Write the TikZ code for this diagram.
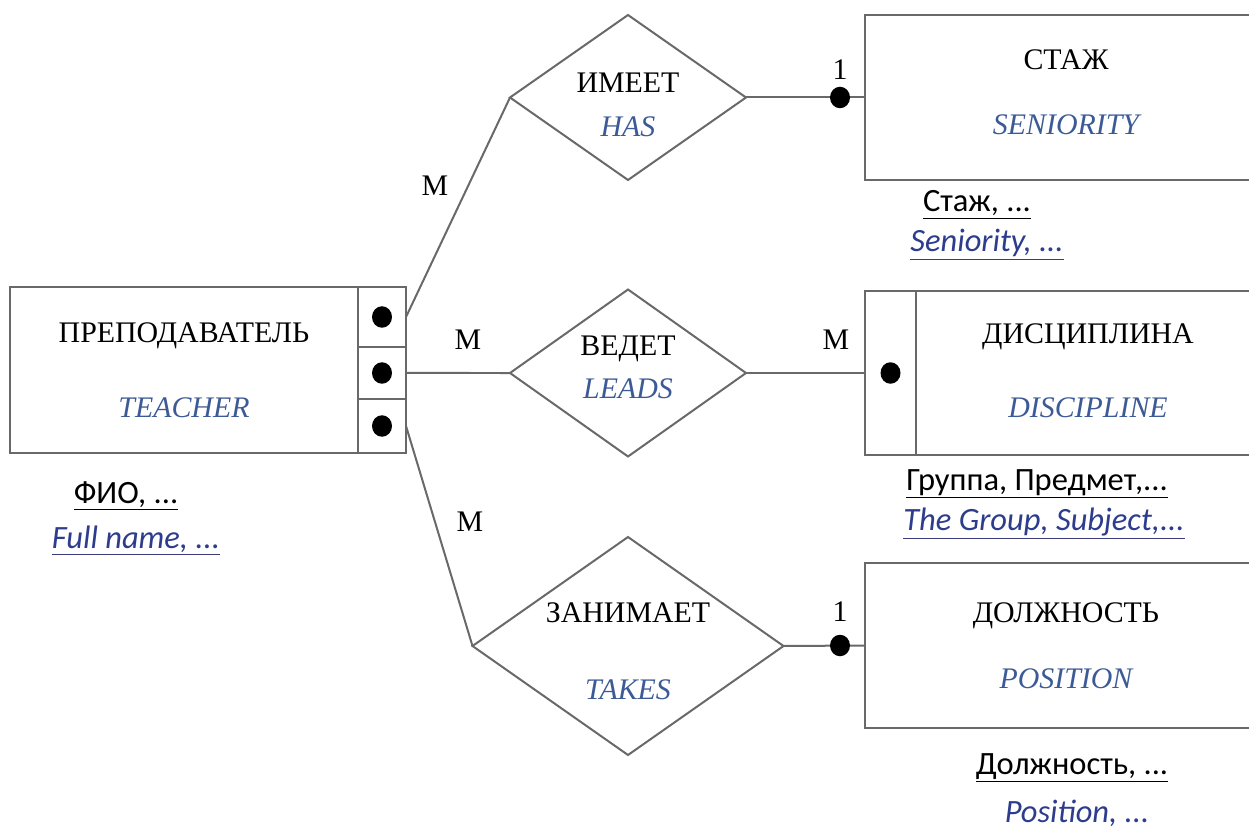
\documentclass[tikz,border=0pt]{standalone}
\usepackage{fontspec}
\setmainfont{Liberation Serif}
\newfontfamily\attrfont{Carlito}
\usepackage{tikz}
\usetikzlibrary{calc,positioning,arrows,shapes.geometric}

\definecolor{linegray}{RGB}{105,105,105}
\definecolor{enblue}{RGB}{60,90,150}
\definecolor{attrblue}{RGB}{45,60,140}
\definecolor{ulblue}{RGB}{60,60,125}

\newcommand{\ulru}[1]{\underline{#1}}
\newcommand{\ulen}[1]{\textcolor{ulblue}{\underline{\textcolor{attrblue}{\itshape #1}}}}

\tikzset{
  ent/.style={draw=linegray, line width=0.04cm, minimum height=3.3cm, inner sep=0pt, outer sep=0pt},
  rel/.style={diamond, draw=linegray, line width=0.04cm, inner sep=0pt, outer sep=0pt},
  ru/.style={font=\fontsize{17}{20}\selectfont, text height=0.39cm, text depth=0pt, inner sep=0pt},
  en/.style={ru, font=\fontsize{17}{20}\selectfont\itshape, text=enblue},
  dot/.style={ellipse, fill=black, inner sep=0pt, minimum width=0.4cm, minimum height=0.43cm},
  attr/.style={font=\attrfont\fontsize{18.5}{22}\selectfont, anchor=base, inner sep=0pt},
  link/.style={draw=linegray, line width=0.04cm},
}

\begin{document}
\begin{tikzpicture}[node distance=1cm,auto,>=stealth']
  \useasboundingbox (0,0) rectangle (24.98,-16.58);
  \clip (0,0) rectangle (24.98,-16.58);

  % teacher
  \node[ent, minimum width=6.96cm, minimum height=3.32cm] (teacher) at (3.68,-7.40) {};
  \node[ent, minimum width=0.96cm, minimum height=1.2cm, anchor=north west] (teacher_k1) at (teacher.north east) {};
  \node[ent, minimum width=0.96cm, minimum height=1.04cm, below=0pt of teacher_k1] (teacher_k2) {};
  \node[ent, minimum width=0.96cm, minimum height=1.08cm, below=0pt of teacher_k2] (teacher_k3) {};
  \node[dot] (teacher_d1) at (teacher_k1) {};
  \node[dot] (teacher_d2) at (teacher_k2) {};
  \node[dot] (teacher_d3) at (teacher_k3) {};
  \node[ru, above of=teacher, node distance=0.74cm] (teacher_ru) {ПРЕПОДАВАТЕЛЬ};
  \node[en, below of=teacher, node distance=0.76cm] (teacher_en) {TEACHER};

  % seniority
  \node[ent, minimum width=8.04cm] (staj) at (21.32,-1.95) {};
  \node[ru, above of=staj, node distance=0.75cm] (staj_ru) {СТАЖ};
  \node[en, below of=staj, node distance=0.55cm] (staj_en) {SENIORITY};

  % discipline
  \node[ent, minimum width=1.02cm, minimum height=3.28cm] (disc_k) at (17.81,-7.46) {};
  \node[ent, minimum width=6.88cm, minimum height=3.28cm, right=0pt of disc_k] (disc) {};
  \node[dot] (disc_d) at (disc_k) {};
  \node[ru, above of=disc, node distance=0.78cm] (disc_ru) {ДИСЦИПЛИНА};
  \node[en, below of=disc, node distance=0.70cm] (disc_en) {DISCIPLINE};

  % position
  \node[ent, minimum width=8.04cm] (dolzh) at (21.32,-12.91) {};
  \node[ru, above of=dolzh, node distance=0.65cm] (dolzh_ru) {ДОЛЖНОСТЬ};
  \node[en, below of=dolzh, node distance=0.67cm] (dolzh_en) {POSITION};

  %%%%

  \node[rel, minimum width=4.72cm, minimum height=3.3cm] (imeet) at (12.56,-1.95) {};
  \node[ru, above of=imeet, node distance=0.29cm] (imeet_ru) {ИМЕЕТ};
  \node[en, below of=imeet, node distance=0.59cm] (imeet_en) {HAS};

  \node[rel, minimum width=4.72cm, minimum height=3.34cm] (vedet) at (12.56,-7.46) {};
  \node[ru, above of=vedet, node distance=0.55cm] (vedet_ru) {ВЕДЕТ};
  \node[en, below of=vedet, node distance=0.31cm] (vedet_en) {LEADS};

  \node[rel, minimum width=6.22cm, minimum height=4.36cm] (zanim) at (12.56,-12.92) {};
  \node[ru, above of=zanim, node distance=0.66cm] (zanim_ru) {ЗАНИМАЕТ};
  \node[en, below of=zanim, node distance=0.88cm] (zanim_en) {TAKES};

  %%%%

  \draw[link] (teacher_k1.east) -- (imeet.west);
  \draw[link] (teacher_k2.east) -- (vedet.west);
  \draw[link] (teacher_k3.east) -- (zanim.west);

  \draw[link] (imeet.east) -- (staj.west);
  \node[dot] (staj_d) at ($(staj.west)+(-0.5,0)$) {};
  \node[ru, above of=staj_d, node distance=0.56cm] (staj_one) {1};

  \draw[link] (vedet.east) -- (disc_k.west);

  \draw[link] (zanim.east) -- (dolzh.west);
  \node[dot] (dolzh_d) at ($(dolzh.west)+(-0.5,0)$) {};
  \node[ru, above of=dolzh_d, node distance=0.68cm] (dolzh_one) {1};

  \node[ru] (m_imeet) at (8.70,-3.72) {M};
  \node[ru] (m_vedet) at (9.36,-6.80) {M};
  \node[ru] (m_zanim) at (9.40,-10.44) {M};
  \node[ru] (m_disc) at (16.72,-6.80) {M};

  %%%%

  \node[attr] (teacher_a1) at (2.52,-10.06) {\ulru{ФИО, ...}};
  \node[attr] (teacher_a2) at (2.72,-10.96) {\ulen{Full name, ...}};
  \node[attr] (staj_a1) at (19.54,-4.24) {\ulru{Стаж, ...}};
  \node[attr] (staj_a2) at (19.74,-5.04) {\ulen{Seniority, ...}};
  \node[attr] (disc_a1) at (20.74,-9.80) {\ulru{Группа, Предмет,...}};
  \node[attr] (disc_a2) at (20.88,-10.60) {\ulen{The Group, Subject,...}};
  \node[attr] (dolzh_a1) at (21.44,-15.48) {\ulru{Должность, ...}};
  \node[attr, text=attrblue, font=\attrfont\fontsize{18.5}{22}\selectfont\itshape] (dolzh_a2) at (21.54,-16.45) {Position, ...};

\end{tikzpicture}
\end{document}
